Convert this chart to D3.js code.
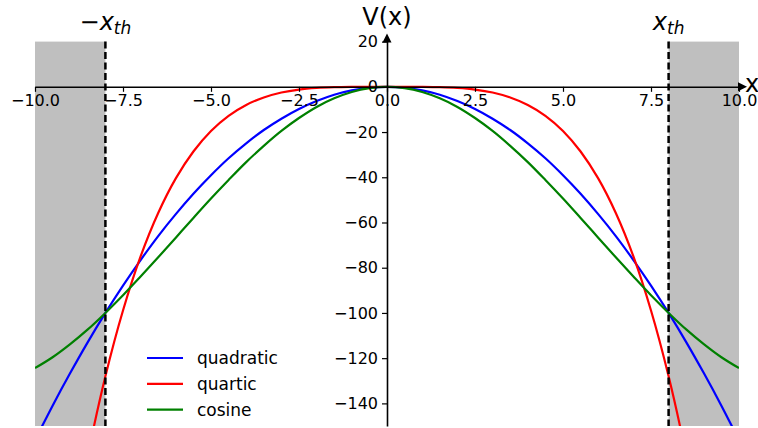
<!DOCTYPE html>
<html>
<head>
<meta charset="utf-8">
<script src="https://cdn.jsdelivr.net/npm/d3@7"></script>
<style>
  body { margin: 0; background: #fff; }
  svg { font-family: "DejaVu Sans", sans-serif; display: block; }
</style>
</head>
<body>
<svg id="chart"></svg>
<script>
// sample positions and curve values
const xs = [-10, -9.5, -9, -8.5, -8, -7.5, -7, -6.5, -6, -5.5, -5, -4.5, -4, -3.5, -3, -2.5, -2, -1.5, -1, -0.5,
  0, 0.5, 1, 1.5, 2, 2.5, 3, 3.5, 4, 4.5, 5, 5.5, 6, 6.5, 7, 7.5, 8, 8.5, 9, 9.5, 10];

const quadratic = [-156.3, -141.0, -126.6, -112.9, -100, -87.9, -76.6, -66.0, -56.3, -47.3, -39.1, -31.6, -25.0, -19.1, -14.1, -9.8, -6.3, -3.5, -1.6, -0.4,
  0, -0.4, -1.6, -3.5, -6.3, -9.8, -14.1, -19.1, -25.0, -31.6, -39.1, -47.3, -56.3, -66.0, -76.6, -87.9, -100, -112.9, -126.6, -141.0, -156.3];

const quartic = [-312.5, -254.5, -205.0, -163.1, -128.0, -98.9, -75.0, -55.8, -40.5, -28.6, -19.5, -12.8, -8.0, -4.7, -2.5, -1.2, -0.5, -0.16, -0.03, 0,
  0, 0, -0.03, -0.16, -0.5, -1.2, -2.5, -4.7, -8.0, -12.8, -19.5, -28.6, -40.5, -55.8, -75.0, -98.9, -128.0, -163.1, -205.0, -254.5, -312.5];

const cosine = [-124.4, -119.6, -113.8, -107.3, -100, -92.2, -83.9, -75.4, -66.7, -58.0, -49.4, -41.2, -33.3, -26.1, -19.5, -13.8, -8.9, -5.1, -2.3, -0.6,
  0, -0.6, -2.3, -5.1, -8.9, -13.8, -19.5, -26.1, -33.3, -41.2, -49.4, -58.0, -66.7, -75.4, -83.9, -92.2, -100, -107.3, -113.8, -119.6, -124.4];

const seriesNames = ["quadratic", "quartic", "cosine"];
const seriesColors = ["#0000ff", "#ff0000", "#008000"];
const xTicks = [-10, -7.5, -5, -2.5, 0, 2.5, 5, 7.5, 10];
const yTicks = [-140, -120, -100, -80, -60, -40, -20, 0, 20];
const xThreshold = 8;

const width = 758, height = 428;
const margin = { top: 41.6, right: 19, bottom: 2, left: 35 };
const innerW = width - margin.left - margin.right;
const innerH = height - margin.top - margin.bottom;

const svg = d3.select("#chart").attr("width", width).attr("height", height);
const chart = svg.append("g").attr("transform", `translate(${margin.left},${margin.top})`);

const x = d3.scaleLinear().domain([-10, 10]).range([0, innerW]);
const y = d3.scaleLinear().domain([-150, 20]).range([innerH, 0]);

const fmtMinus = (s) => s.replace("-", "\u2212");

chart.append("clipPath").attr("id", "clip")
  .append("rect").attr("width", innerW).attr("height", innerH);

// forbidden regions
chart.selectAll(".zone")
  .data([[-10, -xThreshold], [xThreshold, 10]])
  .join("rect")
  .attr("class", "zone")
  .attr("x", (d) => x(d[0]))
  .attr("width", (d) => x(d[1]) - x(d[0]))
  .attr("y", 0)
  .attr("height", innerH)
  .attr("fill", "#bfbfbf");

// curves
const series = [quadratic, quartic, cosine];
const line = d3.line()
  .x((d, i) => x(xs[i]))
  .y((d) => y(d))
  .curve(d3.curveCatmullRom.alpha(0.5));

chart.append("g").attr("clip-path", "url(#clip)")
  .selectAll("path")
  .data(series)
  .join("path")
  .attr("d", line)
  .attr("fill", "none")
  .attr("stroke", (d, i) => seriesColors[i])
  .attr("stroke-width", 2.2);

// threshold lines
chart.selectAll(".thr")
  .data([-xThreshold, xThreshold])
  .join("line")
  .attr("class", "thr")
  .attr("x1", (d) => x(d)).attr("x2", (d) => x(d))
  .attr("y1", 0).attr("y2", innerH)
  .attr("stroke", "#000")
  .attr("stroke-width", 2.5)
  .attr("stroke-dasharray", "7,3.5");

// x axis at y = 0
const xAxis = chart.append("g")
  .attr("transform", `translate(0,${y(0)})`)
  .call(d3.axisBottom(x).tickValues(xTicks).tickSize(5).tickSizeOuter(0).tickPadding(3)
    .tickFormat((d) => fmtMinus(d3.format(".1f")(d))));
xAxis.select(".domain").attr("stroke-width", 1.6);
xAxis.selectAll(".tick line").attr("stroke-width", 1.2);
xAxis.selectAll("text").attr("font-size", 16).attr("fill", "#000").attr("font-family", "DejaVu Sans");

// y axis at x = 0
const yAxis = chart.append("g")
  .attr("transform", `translate(${x(0)},0)`)
  .call(d3.axisLeft(y).tickValues(yTicks).tickSize(5).tickSizeOuter(0).tickPadding(4)
    .tickFormat((d) => fmtMinus(d3.format("d")(d))));
yAxis.select(".domain").attr("stroke-width", 1.6);
yAxis.selectAll(".tick line").attr("stroke-width", 1.2);
yAxis.selectAll("text").attr("font-size", 16).attr("fill", "#000").attr("font-family", "DejaVu Sans");

// arrow heads
chart.append("path")
  .attr("d", `M${x(10) + 8},${y(0)} L${x(10) - 1},${y(0) - 4.5} L${x(10) - 1},${y(0) + 4.5} Z`)
  .attr("fill", "#000");
chart.append("path")
  .attr("d", `M${x(0)},${y(20) - 8} L${x(0) - 4.5},${y(20) + 1} L${x(0) + 4.5},${y(20) + 1} Z`)
  .attr("fill", "#000");

// axis labels
svg.append("text")
  .attr("x", margin.left + x(0)).attr("y", 25)
  .attr("text-anchor", "middle").attr("font-size", 24)
  .text("V(x)");
svg.append("text")
  .attr("x", 745).attr("y", margin.top + y(0) + 5)
  .attr("font-size", 24)
  .text("x");

// threshold labels
const thrLabels = svg.selectAll(".thrLabel")
  .data([["\u2212", -xThreshold], ["", xThreshold]])
  .join("text")
  .attr("class", "thrLabel")
  .attr("x", (d) => margin.left + x(d[1]))
  .attr("y", 30)
  .attr("text-anchor", "middle")
  .attr("font-size", 24);
thrLabels.append("tspan").text((d) => d[0]);
thrLabels.append("tspan").attr("font-style", "italic").text("x");
thrLabels.append("tspan").attr("font-style", "italic").attr("font-size", 17).attr("dy", 4).text("th");

// legend
const legend = chart.append("g").attr("transform", `translate(${147 - margin.left},${358 - margin.top})`);
const items = legend.selectAll("g")
  .data(seriesNames)
  .join("g")
  .attr("transform", (d, i) => `translate(0,${i * 25.8})`);
items.append("line")
  .attr("x1", 0).attr("x2", 36)
  .attr("stroke", (d, i) => seriesColors[i])
  .attr("stroke-width", 2.2);
items.append("text")
  .attr("x", 50).attr("dy", "0.35em")
  .attr("font-size", 17)
  .text((d) => d);
</script>
</body>
</html>
